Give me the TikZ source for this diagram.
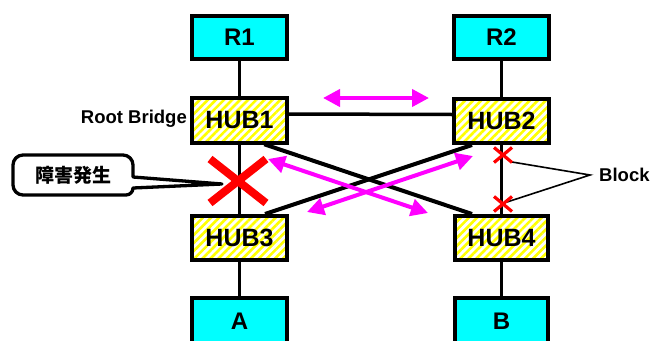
\documentclass[tikz,border=0pt]{standalone}
\usepackage{fontspec}
\setmainfont{Liberation Sans}
\newfontfamily\jpfont{Noto Sans CJK JP}
\usetikzlibrary{arrows.meta,patterns.meta,calc}
\definecolor{cy}{RGB}{0,255,255}
\definecolor{mg}{RGB}{255,0,255}
\definecolor{yl}{RGB}{255,255,0}
\definecolor{rd}{RGB}{255,0,0}
\begin{document}
\begin{tikzpicture}[x=1pt,y=-1pt,
  box/.style={draw=black,line width=4pt,minimum width=95pt,minimum height=44pt,inner sep=0pt,font=\bfseries\fontsize{24}{24}\selectfont},
  cyanbox/.style={box,fill=cy},
  hubbox/.style={box,pattern={Lines[angle=45,distance=5.7pt,line width=2.6pt]},pattern color=yl,font=\bfseries\fontsize{25}{25}\selectfont},
  link/.style={line width=3.5pt},
  cross/.style={line width=4pt},
  flow/.style={draw=mg,line width=4pt,{Triangle[length=17pt,width=17pt]}-{Triangle[length=17pt,width=17pt]}},
  fault/.style={draw=rd,line width=8pt},
  blockmark/.style={draw=rd,line width=3.2pt},
  lbl/.style={inner sep=0pt,font=\bfseries\fontsize{18.5}{18.5}\selectfont},
]
\useasboundingbox (0,0) rectangle (652,340);
% nodes
\node[cyanbox,minimum height=43pt] (R1) at (239.5,37.5) {R1};
\node[cyanbox,minimum height=43pt] (R2) at (501.5,37.5) {R2};
\node[hubbox,minimum height=45pt] (HUB1) at (239.5,120.5) {HUB1};
\node[hubbox,minimum height=44pt] (HUB2) at (501.5,121) {HUB2};
\node[hubbox] (HUB3) at (239.5,238) {HUB3};
\node[hubbox,minimum width=93pt] (HUB4) at (501.5,238) {HUB4};
\node[cyanbox,minimum height=46pt] (A) at (239.5,321) {A};
\node[cyanbox,minimum width=93pt,minimum height=46pt] (B) at (501.5,321) {B};
\node[lbl,anchor=base east] (RB) at (187,123.3) {Root Bridge};
\node[lbl,anchor=base west] (Block) at (599,181.5) {Block};
% links
\draw[link] (R1.south) -- (HUB1.north);
\draw[link] (R2.south) -- (HUB2.north);
\draw[link] (HUB1.south) -- (HUB3.north);
\draw[link] (HUB2.south) -- (HUB4.north);
\draw[link] (HUB3.south) -- (A.north);
\draw[link] (HUB4.south) -- (B.north);
\draw[link] ([yshift=6.5pt]HUB1.east) -- ([yshift=6.5pt]HUB2.west);
\draw[cross] ([xshift=-24pt]HUB1.south east) -- ([xshift=19pt]HUB4.north west);
\draw[cross] ([xshift=20pt]HUB2.south west) -- ([xshift=-24pt]HUB3.north east);
% flow arrows
\coordinate (f1a) at (323,98);  \coordinate (f1b) at (429,98);
\coordinate (f2a) at (268,159); \coordinate (f2b) at (428,213);
\coordinate (f3a) at (307,212); \coordinate (f3b) at (473,156);
\draw[flow] (f1a) -- (f1b);
\draw[flow] (f2a) -- (f2b);
\draw[flow] (f3a) -- (f3b);
% fault mark
\coordinate (X) at (238,181);
\draw[fault] ($(X)+(-28,-22)$) -- ($(X)+(28,22)$);
\draw[fault] ($(X)+(28,-22)$) -- ($(X)+(-28,22)$);
% block marks
\coordinate (xb1) at (503,155);
\coordinate (xb2) at (503,204);
\coordinate (bk) at ($(Block.base west)+(-9,-6.5)$);
\draw[line width=1.6pt] ($(xb1)+(9,7)$) -- (bk) -- ($(xb2)+(4,-2)$);
\foreach \c in {xb1,xb2}{
  \draw[blockmark] ($(\c)+(-9,-7.5)$) -- ($(\c)+(9,7.5)$);
  \draw[blockmark] ($(\c)+(9,-7.5)$) -- ($(\c)+(-9,7.5)$);
}
% callout
\draw[line width=3.3pt,fill=white,line join=round]
  (23,155) -- (123,155) to[out=0,in=90] (133,165) -- (133,177) -- (222,184)
  -- (133,188) to[out=-90,in=0] (126,195) -- (23,195) to[out=180,in=-90] (13,185)
  -- (13,165) to[out=90,in=180] (23,155) -- cycle;
\node[inner sep=0pt] (fault) at (73,175) {\jpfont\bfseries\fontsize{19}{19}\selectfont 障害発生};
\end{tikzpicture}
\end{document}
